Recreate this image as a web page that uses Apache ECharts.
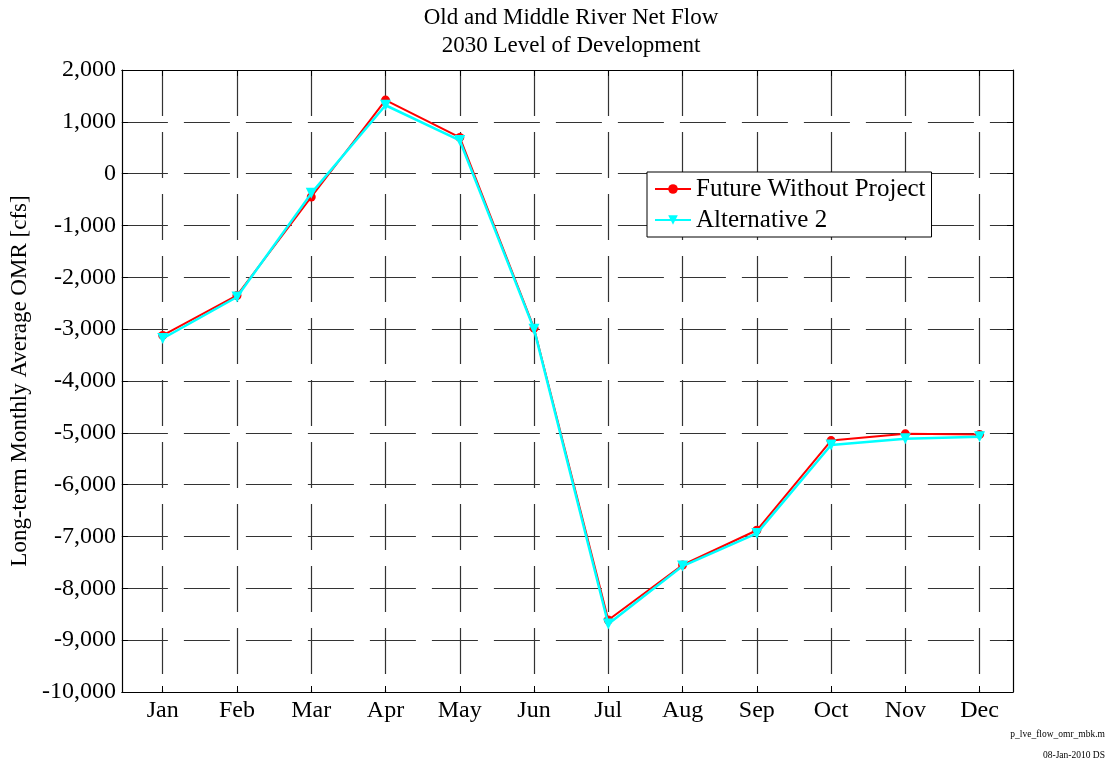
<!DOCTYPE html>
<html>
<head>
<meta charset="utf-8">
<title>Old and Middle River Net Flow</title>
<script src="https://cdn.jsdelivr.net/npm/echarts@6.0.0/dist/echarts.min.js"></script>
<style>
  html, body { margin: 0; padding: 0; background: #ffffff; }
  #chart { width: 1108px; height: 765px; }
</style>
</head>
<body>
<div id="chart"></div>
<script>
// Monthly categories and the two long-term average OMR flow series (cfs)
const months = ['Jan', 'Feb', 'Mar', 'Apr', 'May', 'Jun', 'Jul', 'Aug', 'Sep', 'Oct', 'Nov', 'Dec'];
const futureWithoutProject = [-3120, -2350, -450, 1420, 700, -2980, -8610, -7550, -6880, -5150, -5020, -5030];
const alternative2 = [-3180, -2380, -380, 1320, 640, -3000, -8690, -7570, -6940, -5235, -5115, -5075];
const yTicks = [-10000, -9000, -8000, -7000, -6000, -5000, -4000, -3000, -2000, -1000, 0, 1000, 2000];
const footnotes = ['p_lve_flow_omr_mbk.m', '08-Jan-2010 DS'];

const serif = '"Liberation Serif", "Times New Roman", serif';
const monthPos = months.map((m, i) => i + 1);
const gridDash = [46, 16];

const chart = echarts.init(document.getElementById('chart'), null, { renderer: 'canvas' });

function fmt(v) {
  return Number(v).toLocaleString('en-US');
}

const xCommon = {
  type: 'value',
  min: 0.45,
  max: 12.45,
  axisLine: { show: true, onZero: false, lineStyle: { color: '#000', width: 1.2 } },
  axisTick: { show: true, inside: true, length: 6, customValues: monthPos, lineStyle: { color: '#000' } }
};
const yCommon = {
  type: 'value',
  min: yTicks[0],
  max: yTicks[yTicks.length - 1],
  interval: 1000,
  axisLine: { show: true, onZero: false, lineStyle: { color: '#000', width: 1.2 } },
  axisTick: { show: true, inside: true, length: 6, lineStyle: { color: '#000' } }
};

chart.setOption({
  backgroundColor: '#ffffff',
  animation: false,
  title: {
    text: 'Old and Middle River Net Flow\n2030 Level of Development',
    left: 566,
    textAlign: 'center',
    top: -1,
    textStyle: { fontFamily: serif, fontSize: 23, fontWeight: 'normal', color: '#000', lineHeight: 28 }
  },
  grid: { left: 121, right: 95, top: 70, bottom: 73, containLabel: false },
  legend: {
    orient: 'vertical',
    left: 647,
    top: 172,
    itemWidth: 36,
    itemHeight: 12,
    itemGap: 3,
    padding: [3, 6, 3, 7],
    backgroundColor: '#ffffff',
    borderColor: '#000',
    borderWidth: 1,
    symbolRotate: 'inherit',
    textStyle: { fontFamily: serif, fontSize: 25, color: '#000', lineHeight: 28 },
    data: ['Future Without Project', 'Alternative 2']
  },
  xAxis: [
    Object.assign({}, xCommon, {
      position: 'bottom',
      axisLabel: {
        show: true,
        customValues: monthPos,
        margin: 7,
        fontFamily: serif,
        fontSize: 24,
        color: '#000',
        formatter: v => months[Math.round(v) - 1] || ''
      },
      splitLine: { show: true, lineStyle: { color: '#333', width: 1.2, type: gridDash } }
    }),
    Object.assign({}, xCommon, {
      position: 'top',
      axisLabel: { show: false },
      splitLine: { show: false }
    })
  ],
  yAxis: [
    Object.assign({}, yCommon, {
      position: 'left',
      name: 'Long-term Monthly Average OMR [cfs]',
      nameLocation: 'middle',
      nameGap: 88,
      nameTextStyle: { fontFamily: serif, fontSize: 23, color: '#000' },
      axisLabel: {
        margin: 6,
        fontFamily: serif,
        fontSize: 24,
        color: '#000',
        formatter: v => fmt(v)
      },
      splitLine: { show: true, lineStyle: { color: '#333', width: 1.2, type: gridDash } }
    }),
    Object.assign({}, yCommon, {
      position: 'right',
      axisLabel: { show: false },
      splitLine: { show: false }
    })
  ],
  series: [
    {
      name: 'Future Without Project',
      type: 'line',
      xAxisIndex: 0,
      yAxisIndex: 0,
      data: months.map((m, i) => [monthPos[i], futureWithoutProject[i]]),
      symbol: 'circle',
      symbolSize: 9,
      showAllSymbol: true,
      lineStyle: { color: '#ff0000', width: 2 },
      itemStyle: { color: '#ff0000', borderColor: '#ff0000', borderWidth: 0 },
      z: 2
    },
    {
      name: 'Alternative 2',
      type: 'line',
      xAxisIndex: 0,
      yAxisIndex: 0,
      data: months.map((m, i) => [monthPos[i], alternative2[i]]),
      symbol: 'triangle',
      symbolRotate: 180,
      symbolSize: 11,
      showAllSymbol: true,
      lineStyle: { color: '#00ffff', width: 2.5 },
      itemStyle: { color: '#00ffff', borderColor: '#00ffff', borderWidth: 0 },
      z: 3
    }
  ],
  graphic: footnotes.map((t, i) => ({
    type: 'text',
    right: 3,
    top: 729 + i * 21,
    style: { text: t, fontFamily: serif, fontSize: 9.5, fill: '#000', textAlign: 'right' }
  }))
});
</script>
</body>
</html>
